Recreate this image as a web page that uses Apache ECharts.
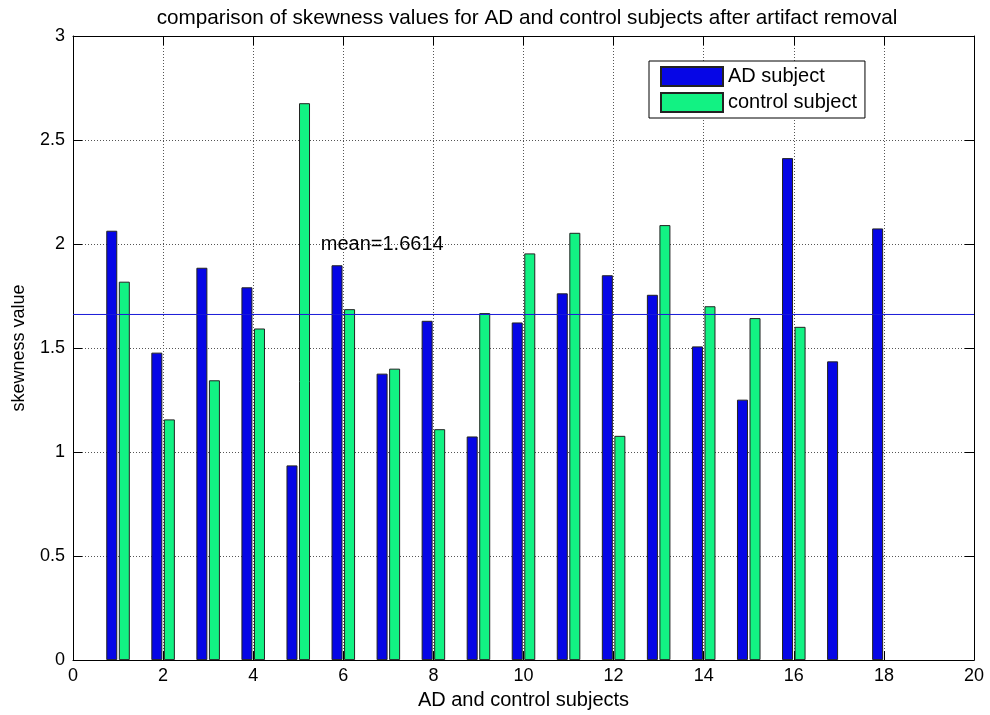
<!DOCTYPE html>
<html>
<head>
<meta charset="utf-8">
<title>Skewness comparison</title>
<script src="https://cdn.jsdelivr.net/npm/echarts@6/dist/echarts.min.js"></script>
<style>
  html, body { margin: 0; padding: 0; background: #fff; }
  #chart { width: 990px; height: 715px; }
</style>
</head>
<body>
<div id="chart"></div>
<script>
// Subject numbers for each group
const adSubjects = [1, 2, 3, 4, 5, 6, 7, 8, 9, 10, 11, 12, 13, 14, 15, 16, 17, 18];
const controlSubjects = [1, 2, 3, 4, 5, 6, 7, 8, 9, 10, 11, 12, 13, 14, 15, 16];

// Skewness after artifact removal
const adValues = [2.064, 1.478, 1.886, 1.792, 0.936, 1.898, 1.377, 1.631, 1.075,
                  1.623, 1.763, 1.850, 1.756, 1.508, 1.252, 2.413, 1.436, 2.075];
const controlValues = [1.819, 1.157, 1.345, 1.594, 2.677, 1.687, 1.401, 1.110,
                       1.668, 1.955, 2.054, 1.078, 2.091, 1.701, 1.644, 1.602];

// Overall mean and where its note sits
const meanValue = [1.6614];
const meanNoteAt = [5.5, 2.0];

// Axis ticks
const xTicks = [0, 2, 4, 6, 8, 10, 12, 14, 16, 18, 20];
const yTicks = [0, 0.5, 1, 1.5, 2, 2.5, 3];

const seriesNames = ['AD subject', 'control subject'];
const adColor = '#0606e6';
const controlColor = '#12f283';
const meanColor = '#1a1ad8';

const FONT = '"Liberation Sans", Arial, Helvetica, sans-serif';

const chart = echarts.init(document.getElementById('chart'), null, { renderer: 'canvas' });

const pair = (xs, ys) => xs.map((x, i) => [x, ys[i]]);

const xMin = xTicks[0];
const xMax = xTicks[xTicks.length - 1];

// Box-style axes: ticks point into the plot on all four sides
const gridLine = { show: true, lineStyle: { color: '#555', type: [1, 2], width: 1 } };
const tickIn = { show: true, inside: true, length: 9, lineStyle: { color: '#000' } };
const axisLine = { show: true, onZero: false, lineStyle: { color: '#000', width: 1 } };

const option = {
  backgroundColor: '#fff',
  animation: false,
  title: {
    text: 'comparison of skewness values for AD and control subjects after artifact removal',
    left: 522,
    textAlign: 'center',
    top: 3,
    textStyle: { fontFamily: FONT, fontSize: 20.7, fontWeight: 'normal', color: '#000' }
  },
  legend: {
    data: seriesNames,
    orient: 'vertical',
    left: 649,
    top: 61,
    itemWidth: 62,
    itemHeight: 19,
    itemGap: 5,
    icon: 'rect',
    padding: [5, 8, 5, 11],
    borderColor: '#000',
    borderWidth: 1,
    backgroundColor: '#fff',
    textStyle: { fontFamily: FONT, fontSize: 20, color: '#000' }
  },
  grid: { left: 73, top: 36, width: 901, height: 626, containLabel: false },
  xAxis: [
    {
      type: 'value', position: 'bottom', min: xMin, max: xMax,
      interval: xTicks[1] - xTicks[0],
      name: 'AD and control subjects', nameLocation: 'middle', nameGap: 24,
      nameTextStyle: { fontFamily: FONT, fontSize: 20, color: '#000' },
      axisLine: axisLine, axisTick: tickIn, splitLine: gridLine,
      axisLabel: { fontFamily: FONT, fontSize: 18, color: '#000', margin: 7 }
    },
    {
      type: 'value', position: 'top', min: xMin, max: xMax,
      interval: xTicks[1] - xTicks[0],
      axisLine: axisLine, axisTick: tickIn, splitLine: { show: false },
      axisLabel: { show: false }
    }
  ],
  yAxis: [
    {
      type: 'value', position: 'left', min: yTicks[0], max: yTicks[yTicks.length - 1],
      interval: yTicks[1] - yTicks[0],
      name: 'skewness value', nameLocation: 'middle', nameGap: 45,
      nameTextStyle: { fontFamily: FONT, fontSize: 18, color: '#000' },
      axisLine: axisLine, axisTick: tickIn, splitLine: gridLine,
      axisLabel: { fontFamily: FONT, fontSize: 18, color: '#000', margin: 8 }
    },
    {
      type: 'value', position: 'right', min: yTicks[0], max: yTicks[yTicks.length - 1],
      interval: yTicks[1] - yTicks[0],
      axisLine: axisLine, axisTick: tickIn, splitLine: { show: false },
      axisLabel: { show: false }
    }
  ],
  series: [
    {
      name: seriesNames[0], type: 'bar', xAxisIndex: 0, yAxisIndex: 0,
      data: pair(adSubjects, adValues),
      barWidth: 11, barGap: '14%',
      itemStyle: { color: adColor, borderColor: '#222', borderWidth: 1 }
    },
    {
      name: seriesNames[1], type: 'bar', xAxisIndex: 0, yAxisIndex: 0,
      data: pair(controlSubjects, controlValues),
      barWidth: 11, barGap: '14%',
      itemStyle: { color: controlColor, borderColor: '#222', borderWidth: 1 }
    },
    {
      // horizontal mean line across the full x range
      name: 'mean', type: 'line', xAxisIndex: 0, yAxisIndex: 0, z: 5,
      data: [[xMin, meanValue[0]], [xMax, meanValue[0]]],
      showSymbol: false, symbol: 'none', silent: true,
      lineStyle: { color: meanColor, width: 1 },
      itemStyle: { color: meanColor },
      markPoint: {
        silent: true,
        symbol: 'circle', symbolSize: 0,
        data: [{
          coord: meanNoteAt,
          label: {
            show: true, position: 'right', distance: 0,
            formatter: 'mean=' + meanValue[0],
            fontFamily: FONT, fontSize: 20, color: '#000'
          }
        }]
      }
    }
  ]
};

chart.setOption(option);
</script>
</body>
</html>
